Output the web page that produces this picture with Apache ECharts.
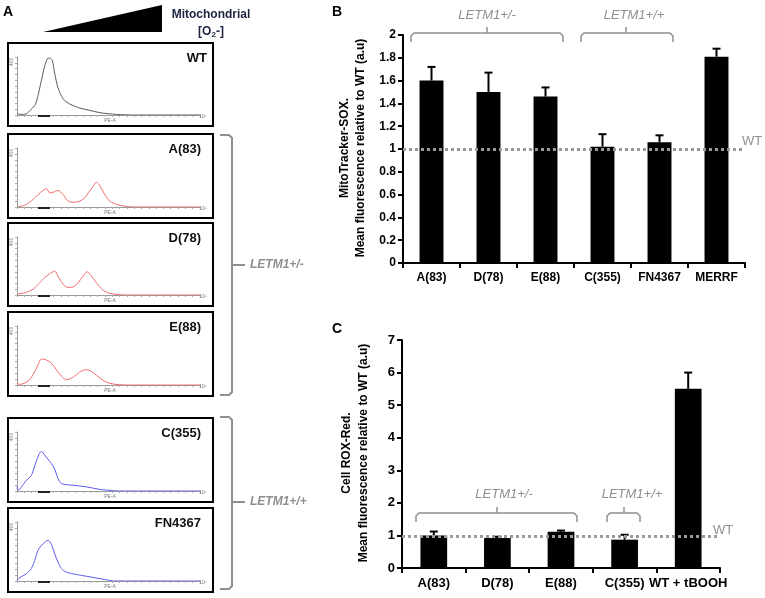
<!DOCTYPE html>
<html>
<head>
<meta charset="utf-8">
<script src="https://cdn.jsdelivr.net/npm/echarts@6/dist/echarts.min.js"></script>
<style>
  body{margin:0;background:#fff;}
  #chart{width:765px;height:598px;}
</style>
</head>
<body>
<div id="chart"></div>
<script>
// panel B - MitoTracker-SOX
var catsB = ['A(83)', 'D(78)', 'E(88)', 'C(355)', 'FN4367', 'MERRF'];
var meanB = [1.6, 1.5, 1.46, 1.02, 1.06, 1.81];
var errB = [1.72, 1.67, 1.54, 1.13, 1.12, 1.88];
var wtB = 1;

// panel C - Cell ROX-Red
var catsC = ['A(83)', 'D(78)', 'E(88)', 'C(355)', 'WT + tBOOH'];
var meanC = [1.0, 0.92, 1.11, 0.87, 5.5];
var errC = [1.12, 0.96, 1.15, 1.02, 6.0];
var wtC = 0.97;

// panel A - histograms, x = % of PE-A axis, y = % of count axis
var histWT = [[0,3],[2,1],[5,2],[7.8,10],[10,18],[11.5,34],[13.3,59],[15.1,84],[16.6,97],[17.9,98],[19.3,94],[20.6,72],[22.4,47],[25.2,28],[28.8,19],[34.3,12],[39.8,8],[45.3,4],[54.4,1],[63.5,0]];
var histA = [[0.5,0],[5.1,4.4],[8.8,12.8],[11.5,21],[14.2,28],[16.1,31],[17.9,24],[19.7,25],[22.4,28],[25.2,21],[28,10],[30.7,8],[34.3,10],[37,15.6],[38.9,24],[41.6,35],[43.4,42],[45.3,36],[48,21],[50.7,10],[54.4,4.4],[59.9,1],[63.5,0]];
var histD = [[0.5,1.7],[5.1,4.5],[8.8,10],[12.4,21],[15.1,30],[17.9,36.5],[20.6,41],[22.4,32.6],[25.2,18.5],[28,13],[30.7,14],[33.4,21],[36.1,32.6],[38.3,40],[40.1,35],[43.4,21],[47.1,8.4],[50.7,2.8],[56.2,0.5],[59.9,0]];
var histE = [[0,4],[1.5,1],[6,6.6],[8.8,17.6],[11.5,34],[13.3,44],[16.1,42.3],[18.8,36.8],[21.5,26],[24.3,15],[27,9],[30.7,13.2],[34.3,22],[37.6,26],[40.7,23],[43.4,16.5],[47.1,8],[50.7,2.7],[56.2,0.5],[61.7,0]];
var histC = [[0,7],[0.5,1.6],[5.1,18],[7.8,26],[8.8,34],[10.6,51],[12,62],[13.3,67],[15.1,61],[17.9,50],[19.7,42.6],[21.2,32],[22.4,21],[24.3,12.6],[30.7,9.8],[38,7],[45.3,2.7],[52.6,0.5],[56.2,0]];
var histFN = [[0,1],[1.5,5.6],[5.1,12.4],[7.8,21],[9.7,35],[11.5,52],[14.2,63],[17,69],[18.8,62],[20.6,46],[22.4,32],[24.3,21],[27,15],[32.5,11],[38,8],[45.3,4],[50.7,1],[53.5,0]];

var histNames = ['WT', 'A(83)', 'D(78)', 'E(88)', 'C(355)', 'FN4367'];
var histData = [histWT, histA, histD, histE, histC, histFN];
var histColors = ['#5a5a5a', '#f26b6b', '#f26b6b', '#f26b6b', '#5b5bef', '#5b5bef'];
var boxTops = [43, 134, 223, 312, 418, 508];
var boxBottoms = [126, 218, 306, 396, 502, 592];

var FONT = '"Liberation Sans", Arial, sans-serif';
var GRAY = '#8f8f8f';

var chart = echarts.init(document.getElementById('chart'));

function errRender(params, api) {
  var x = api.value(0);
  var p0 = api.coord([x, api.value(1)]);
  var p1 = api.coord([x, api.value(2)]);
  var w = 4;
  return {
    type: 'group',
    children: [
      {type: 'line', shape: {x1: p0[0], y1: p0[1], x2: p1[0], y2: p1[1]}, style: {stroke: '#000', lineWidth: 2}},
      {type: 'line', shape: {x1: p1[0] - w, y1: p1[1], x2: p1[0] + w, y2: p1[1]}, style: {stroke: '#000', lineWidth: 2}}
    ]
  };
}

var grids = [
  {left: 403, right: 20, top: 35, bottom: 335},
  {left: 402, right: 45, top: 340, bottom: 30}
];
var xAxes = [];
var yAxes = [];
var series = [];

function barXAxis(cats, gi, fs) {
  return {
    type: 'category', gridIndex: gi, data: cats,
    axisLine: {lineStyle: {color: '#000', width: 2}},
    axisTick: {show: true, length: 5, lineStyle: {color: '#000', width: 2}},
    axisLabel: {color: '#000', fontWeight: 'bold', fontSize: fs, fontFamily: FONT, margin: 9, interval: 0}
  };
}
function barYAxis(gi, max, step, fs) {
  return {
    type: 'value', gridIndex: gi, min: 0, max: max, interval: step,
    splitLine: {show: false},
    axisLine: {show: true, lineStyle: {color: '#000', width: 2}},
    axisTick: {show: true, length: 5, lineStyle: {color: '#000', width: 2}},
    axisLabel: {color: '#000', fontWeight: 'bold', fontSize: fs, fontFamily: FONT, margin: 7}
  };
}

xAxes.push(barXAxis(catsB, 0, 12));
yAxes.push(barYAxis(0, 2, 0.2, 12));
xAxes.push(barXAxis(catsC, 1, 13));
yAxes.push(barYAxis(1, 7, 1, 13));

[[meanB, errB, wtB, 0], [meanC, errC, wtC, 1]].forEach(function (p) {
  var mean = p[0], err = p[1], wt = p[2], i = p[3];
  series.push({
    type: 'line', xAxisIndex: i, yAxisIndex: i, data: [], z: 1,
    markLine: {
      silent: true, symbol: 'none', label: {show: false},
      lineStyle: {color: '#9a9a9a', width: 3, type: [3, 3]},
      data: [{yAxis: wt}]
    }
  });
  series.push({
    type: 'bar', xAxisIndex: i, yAxisIndex: i, data: mean, barWidth: '42%', z: 3,
    itemStyle: {color: '#000'}
  });
  series.push({
    type: 'custom', xAxisIndex: i, yAxisIndex: i, z: 4,
    renderItem: errRender,
    data: mean.map(function (v, k) { return [k, v, err[k]]; })
  });
});

// histogram mini plots
var graphics = [];
histData.forEach(function (d, k) {
  var gi = k + 2;
  var top = boxTops[k], bot = boxBottoms[k];
  var axisY = bot - 11;
  grids.push({left: 17, right: 565, top: top + 14, height: axisY - top - 14});
  xAxes.push({
    type: 'value', gridIndex: gi, min: 0, max: 100, interval: 4,
    splitLine: {show: false},
    axisLine: {lineStyle: {color: '#999', width: 1}},
    axisTick: {show: true, length: 2, lineStyle: {color: '#aaa', width: 1}},
    axisLabel: {show: false}
  });
  yAxes.push({
    type: 'value', gridIndex: gi, min: 0, max: 100, interval: 10,
    splitLine: {show: false},
    axisLine: {show: true, lineStyle: {color: '#999', width: 1}},
    axisTick: {show: true, length: 2, lineStyle: {color: '#aaa', width: 1}},
    axisLabel: {show: false}
  });
  series.push({
    type: 'line', xAxisIndex: gi, yAxisIndex: gi, data: d.concat([[100, 0]]),
    showSymbol: false, smooth: 0.3,
    lineStyle: {color: histColors[k], width: 1}
  });
  graphics.push({
    type: 'rect', z: 50, shape: {x: 8, y: top, width: 205, height: bot - top},
    style: {fill: 'none', stroke: '#000', lineWidth: 2}
  });
  graphics.push({
    type: 'text', z: 50, x: k === 0 ? 207 : 201, y: top + 15,
    style: {text: histNames[k], fill: '#111', font: 'bold 13px ' + FONT, textAlign: 'right', textVerticalAlign: 'middle'}
  });
  graphics.push({
    type: 'text', z: 50, x: 12, y: top + 19, rotation: Math.PI / 2,
    style: {text: '400', fill: '#777', font: '5px ' + FONT, textAlign: 'center', textVerticalAlign: 'middle'}
  });
  graphics.push({
    type: 'text', z: 50, x: 110, y: axisY + 6,
    style: {text: 'PE-A', fill: '#777', font: '5px ' + FONT, textAlign: 'center', textVerticalAlign: 'middle'}
  });
  graphics.push({
    type: 'text', z: 50, x: 203, y: axisY + 2,
    style: {text: '10⁵', fill: '#777', font: '5px ' + FONT, textAlign: 'center', textVerticalAlign: 'middle'}
  });
  graphics.push({
    type: 'line', z: 50, shape: {x1: 38, y1: axisY + 1, x2: 50, y2: axisY + 1},
    style: {stroke: '#222', lineWidth: 2}
  });
});

// header of panel A
graphics.push({type: 'polygon', shape: {points: [[43, 32], [162, 32], [162, 5]]}, style: {fill: '#000'}});
graphics.push({type: 'text', x: 211, y: 15,
  style: {text: 'Mitochondrial', fill: '#1c2440', font: 'bold 12px ' + FONT, textAlign: 'center', textVerticalAlign: 'middle'}});
graphics.push({type: 'text', x: 211, y: 32,
  style: {text: '[O{s|2}-]', fill: '#1c2440', font: 'bold 12px ' + FONT, textAlign: 'center', textVerticalAlign: 'middle',
    rich: {s: {fontSize: 8, fontWeight: 'bold', fill: '#1c2440', verticalAlign: 'bottom', padding: [6, 0, 0, 0]}}}});

// panel letters
[['A', 8, 12], ['B', 337, 12], ['C', 337, 329]].forEach(function (l) {
  graphics.push({type: 'text', x: l[1], y: l[2],
    style: {text: l[0], fill: '#000', font: 'bold 14px ' + FONT, textAlign: 'center', textVerticalAlign: 'middle'}});
});

// vertical braces in panel A
function vBrace(y1, y2, ym, label) {
  graphics.push({type: 'polyline', shape: {points: [[220, y1], [229, y1], [232, y1 + 3], [232, y2 - 3], [229, y2], [220, y2]]},
    style: {stroke: GRAY, lineWidth: 2, fill: 'none'}});
  graphics.push({type: 'line', shape: {x1: 232, y1: ym, x2: 245, y2: ym}, style: {stroke: GRAY, lineWidth: 2}});
  graphics.push({type: 'text', x: 250, y: ym,
    style: {text: label, fill: GRAY, font: 'italic bold 12px ' + FONT, textAlign: 'left', textVerticalAlign: 'middle'}});
}
vBrace(135, 395, 265, 'LETM1+/-');
vBrace(417, 589, 502, 'LETM1+/+');

// horizontal brackets in B and C
function hBrace(x1, x2, xm, y, tx, ty, label) {
  graphics.push({type: 'polyline', shape: {points: [[x1, y + 9], [x1, y + 3], [x1 + 3, y], [x2 - 3, y], [x2, y + 3], [x2, y + 9]]},
    style: {stroke: GRAY, lineWidth: 1.5, fill: 'none'}});
  graphics.push({type: 'line', shape: {x1: xm, y1: y, x2: xm, y2: y - 6}, style: {stroke: GRAY, lineWidth: 1.5}});
  graphics.push({type: 'text', x: tx, y: ty,
    style: {text: label, fill: GRAY, font: 'italic 13px ' + FONT, textAlign: 'center', textVerticalAlign: 'middle'}});
}
hBrace(411, 563, 487, 33, 487, 15, 'LETM1+/-');
hBrace(581, 673, 626, 33, 634, 15, 'LETM1+/+');
hBrace(416, 577, 497, 513, 504, 494, 'LETM1+/-');
hBrace(607, 640, 624, 513, 632, 494, 'LETM1+/+');

// WT labels
graphics.push({type: 'text', x: 742, y: 141, style: {text: 'WT', fill: GRAY, font: '13px ' + FONT, textAlign: 'left', textVerticalAlign: 'middle'}});
graphics.push({type: 'text', x: 713, y: 530, style: {text: 'WT', fill: GRAY, font: '13px ' + FONT, textAlign: 'left', textVerticalAlign: 'middle'}});

// y axis titles
function yTitle(x1, x2, yc, l1, l2) {
  graphics.push({type: 'text', x: x1, y: yc, rotation: Math.PI / 2,
    style: {text: l1, fill: '#000', font: 'bold 12px ' + FONT, textAlign: 'center', textVerticalAlign: 'middle'}});
  graphics.push({type: 'text', x: x2, y: yc, rotation: Math.PI / 2,
    style: {text: l2, fill: '#000', font: 'bold 12px ' + FONT, textAlign: 'center', textVerticalAlign: 'middle'}});
}
yTitle(345, 361, 148, 'MitoTracker-SOX.', 'Mean fluorescence relative to WT (a.u)');
yTitle(347, 364, 453, 'Cell ROX-Red.', 'Mean fluorescence relative to WT (a.u)');

chart.setOption({
  backgroundColor: '#fff',
  animation: false,
  grid: grids,
  xAxis: xAxes,
  yAxis: yAxes,
  series: series,
  graphic: graphics
});
</script>
</body>
</html>
